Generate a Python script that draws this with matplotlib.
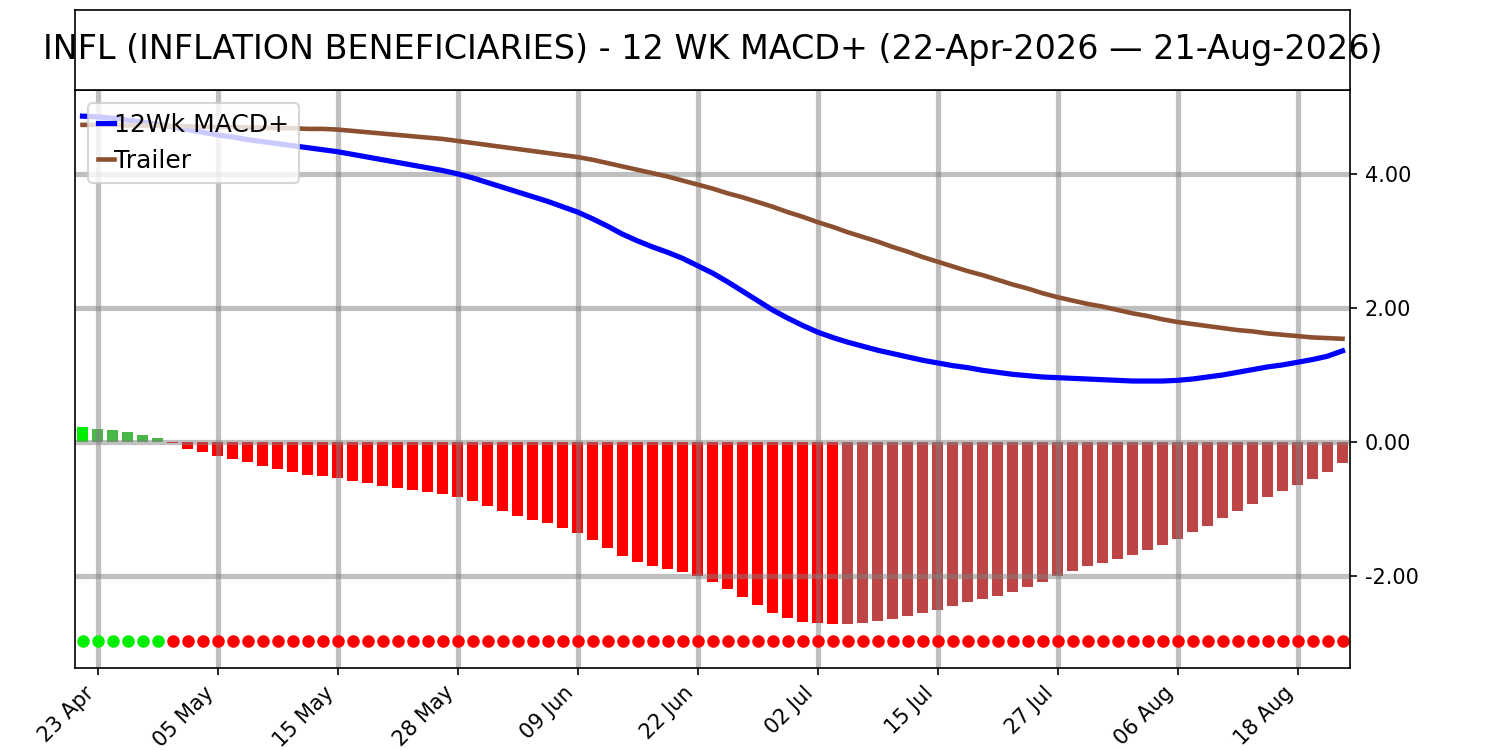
import numpy as np
import pandas as pd
import matplotlib
matplotlib.use("Agg")
import matplotlib.pyplot as plt
from matplotlib.ticker import FormatStrFormatter

# trading days 22-Apr-2026 .. 21-Aug-2026 (US market holidays removed)
holidays = ["2026-05-25", "2026-06-19", "2026-07-03"]
dates = pd.bdate_range("2026-04-22", "2026-08-21", freq="C", holidays=holidays)

hist = [0.22, 0.20, 0.18, 0.15, 0.10, 0.06, -0.02, -0.10, -0.15, -0.21,
        -0.25, -0.30, -0.36, -0.40, -0.45, -0.49, -0.51, -0.54, -0.58, -0.61,
        -0.66, -0.69, -0.72, -0.74, -0.77, -0.82, -0.88, -0.95, -1.03, -1.10,
        -1.16, -1.20, -1.28, -1.35, -1.46, -1.58, -1.70, -1.79, -1.85, -1.89,
        -1.94, -2.00, -2.08, -2.19, -2.31, -2.43, -2.55, -2.62, -2.68, -2.70,
        -2.715, -2.71, -2.70, -2.67, -2.64, -2.59, -2.55, -2.50, -2.44, -2.38,
        -2.34, -2.29, -2.23, -2.16, -2.08, -2.00, -1.92, -1.85, -1.80, -1.74,
        -1.68, -1.61, -1.53, -1.44, -1.34, -1.25, -1.14, -1.03, -0.92, -0.82,
        -0.73, -0.64, -0.55, -0.44, -0.31]

macd = [4.86, 4.85, 4.83, 4.80, 4.77, 4.74, 4.70, 4.66, 4.62, 4.58,
        4.55, 4.51, 4.48, 4.45, 4.42, 4.39, 4.36, 4.33, 4.29, 4.25,
        4.21, 4.17, 4.13, 4.09, 4.05, 4.00, 3.94, 3.87, 3.80, 3.73,
        3.66, 3.59, 3.51, 3.43, 3.33, 3.22, 3.10, 3.00, 2.91, 2.83,
        2.74, 2.63, 2.52, 2.39, 2.25, 2.11, 1.97, 1.85, 1.74, 1.64,
        1.56, 1.49, 1.43, 1.37, 1.32, 1.27, 1.22, 1.18, 1.14, 1.11,
        1.07, 1.04, 1.01, 0.99, 0.97, 0.96, 0.95, 0.94, 0.93, 0.92,
        0.91, 0.91, 0.91, 0.92, 0.94, 0.97, 1.00, 1.04, 1.08, 1.12,
        1.15, 1.19, 1.23, 1.28, 1.36]

trailer = [4.73, 4.73, 4.73, 4.72, 4.72, 4.72, 4.71, 4.71, 4.70, 4.70,
           4.70, 4.69, 4.69, 4.68, 4.68, 4.67, 4.67, 4.66, 4.64, 4.62,
           4.60, 4.58, 4.56, 4.54, 4.52, 4.49, 4.46, 4.43, 4.40, 4.37,
           4.34, 4.31, 4.28, 4.25, 4.21, 4.16, 4.11, 4.06, 4.01, 3.96,
           3.90, 3.84, 3.78, 3.71, 3.65, 3.58, 3.51, 3.43, 3.36, 3.28,
           3.21, 3.13, 3.06, 2.99, 2.91, 2.84, 2.76, 2.69, 2.62, 2.55,
           2.49, 2.42, 2.35, 2.29, 2.22, 2.16, 2.11, 2.06, 2.02, 1.97,
           1.92, 1.88, 1.83, 1.79, 1.76, 1.73, 1.70, 1.67, 1.65, 1.62,
           1.60, 1.58, 1.56, 1.55, 1.54]

title = "INFL (INFLATION BENEFICIARIES) - 12 WK MACD+ (22-Apr-2026 \u2014 21-Aug-2026)"
dot_level = -2.96

x = np.arange(len(dates))

# bar colours: rising/falling above and below zero
colors = []
for i, h in enumerate(hist):
    prev = hist[i - 1] if i > 0 else None
    if h >= 0:
        colors.append("#00ee00" if prev is None or h > prev else "#48b848")
    else:
        colors.append("#ff0000" if prev is None or h < prev else "#bd4545")
dot_colors = ["#00ee00" if h > 0 else "#ff0000" for h in hist]

fig = plt.figure(figsize=(10, 5), dpi=150)
ax = fig.add_axes([0.05, 0.1093, 0.85, 0.7707])
tax = fig.add_axes([0.05, 0.88, 0.85, 0.1067])
tax.set_xticks([])
tax.set_yticks([])
tax.text(0.5, 0.5, title, ha="center", va="center", fontsize=16,
         transform=tax.transAxes, clip_on=False)

ax.bar(x, hist, width=0.72, color=colors)
for i in range(len(x)):
    ax.plot(x[i], dot_level, "o", color=dot_colors[i], markersize=5)
ax.plot(x, macd, color="blue", lw=2.5, label="12Wk MACD+")
ax.plot(x, trailer, color="#8c5030", lw=2.2, label="Trailer")

ax.set_xlim(-0.5, len(x) - 0.5)
ax.set_ylim(-3.37, 5.25)
ax.yaxis.tick_right()
ax.set_yticks([-2, 0, 2, 4])
ax.yaxis.set_major_formatter(FormatStrFormatter("%.2f"))

tick_pos = x[1::8]
ax.set_xticks(tick_pos)
ax.set_xticklabels([dates[i].strftime("%d %b") for i in tick_pos],
                   rotation=45, ha="right")
ax.grid(True, color="gray", alpha=0.5, lw=2.5)

ax.legend(loc="upper left", fontsize=12, handlelength=0.65,
          handletextpad=0.0, borderpad=0.4)

fig.savefig("out.png")
